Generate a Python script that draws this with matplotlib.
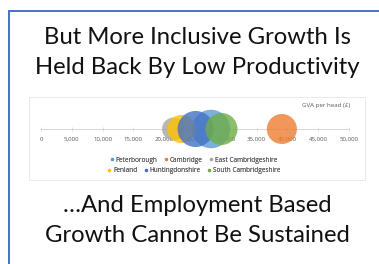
import matplotlib
matplotlib.use("Agg")
import matplotlib.pyplot as plt
from matplotlib.patches import Rectangle
from matplotlib.lines import Line2D

# Data
areas = ["Peterborough", "Cambridge", "East Cambridgeshire",
         "Fenland", "Huntingdonshire", "South Cambridgeshire"]
gva_per_head = [27600, 39100, 21500, 22800, 25100, 29300]
bubble_size = [256, 156, 90, 137, 225, 177]
colors = ["#5B9BD5", "#ED7D31", "#A5A5A5", "#FFC000", "#4472C4", "#70AD47"]
xticks = [0, 5000, 10000, 15000, 20000, 25000, 30000, 35000, 40000, 45000, 50000]
xtick_labels = ["0", "5,000", "10,000", "15,000", "20,000", "25,000",
                "30,000", "35,000", "40,000", "45,000", "50,000"]
title_lines = ["But More Inclusive Growth Is", "Held Back By Low Productivity"]
bottom_lines = ["\u2026And Employment Based", "Growth Cannot Be Sustained"]

W, H = 379, 264
fig = plt.figure(figsize=(W / 100, H / 100), dpi=100)
fig.patch.set_facecolor("white")

# Overlay axes in pixel coordinates
bg = fig.add_axes([0, 0, 1, 1])
bg.set_xlim(0, W)
bg.set_ylim(H, 0)
bg.axis("off")

# Blue slide border (top and left)
bg.plot([9, 9, W + 5], [H + 5, 11, 11], color="#4472C4", lw=1.4,
        solid_joinstyle="miter", clip_on=False)

# Chart panel
bg.add_patch(Rectangle((29, 97), 336, 83, facecolor="white",
                       edgecolor="#E6E6E6", lw=0.6))

font = "Lato"
for i, t in enumerate(title_lines):
    bg.text(197, 38 + i * 30, t, ha="center", va="center", fontsize=17.2,
            family=font, color="#111111")
for i, t in enumerate(bottom_lines):
    bg.text(197, 205 + i * 30, t, ha="center", va="center", fontsize=17.2,
            family=font, color="#111111")

bg.text(350, 106, "GVA per head (\u00a3)", ha="right", va="center",
        fontsize=4.4, family="Open Sans", color="#595959")

# Chart axes
x0, x1 = 41, 349
ytop, ybot = 105, 153
ax = fig.add_axes([x0 / W, (H - ybot) / H, (x1 - x0) / W, (ybot - ytop) / H])
ax.patch.set_alpha(0)
ax.set_xlim(0, 50000)
ax.set_ylim(-1, 1)
for s in ["top", "right", "left"]:
    ax.spines[s].set_visible(False)
ax.spines["bottom"].set_position(("data", 0))
ax.spines["bottom"].set_color("#D0D0D0")
ax.spines["bottom"].set_linewidth(0.6)
ax.set_yticks([])
ax.set_xticks(xticks)
ax.set_xticklabels(xtick_labels, family="Open Sans", fontsize=4.4, color="#595959")
ax.tick_params(axis="x", direction="inout", length=3, width=0.5, color="#D0D0D0", pad=4)

for name, x, s, c in zip(areas, gva_per_head, bubble_size, colors):
    ax.scatter([x], [0], s=s * 3.0, color=c, alpha=0.8, edgecolors="none",
               label=name, zorder=3, clip_on=False)

def legend_row(names, y):
    handles = [Line2D([], [], marker="o", linestyle="none", markersize=2.4,
                      markerfacecolor=colors[areas.index(n)],
                      markeredgecolor="none") for n in names]
    leg = fig.legend(handles, names, loc="center", bbox_to_anchor=(193 / W, (H - y) / H),
                     ncol=3, frameon=False, prop={"family": "Open Sans", "size": 4.7},
                     handletextpad=0.05, columnspacing=0.8, handlelength=1.0,
                     labelcolor="#595959")
    fig.add_artist(leg)

legend_row(areas[:3], 160)
legend_row(areas[3:], 171)

fig.savefig("out.png", dpi=100)
